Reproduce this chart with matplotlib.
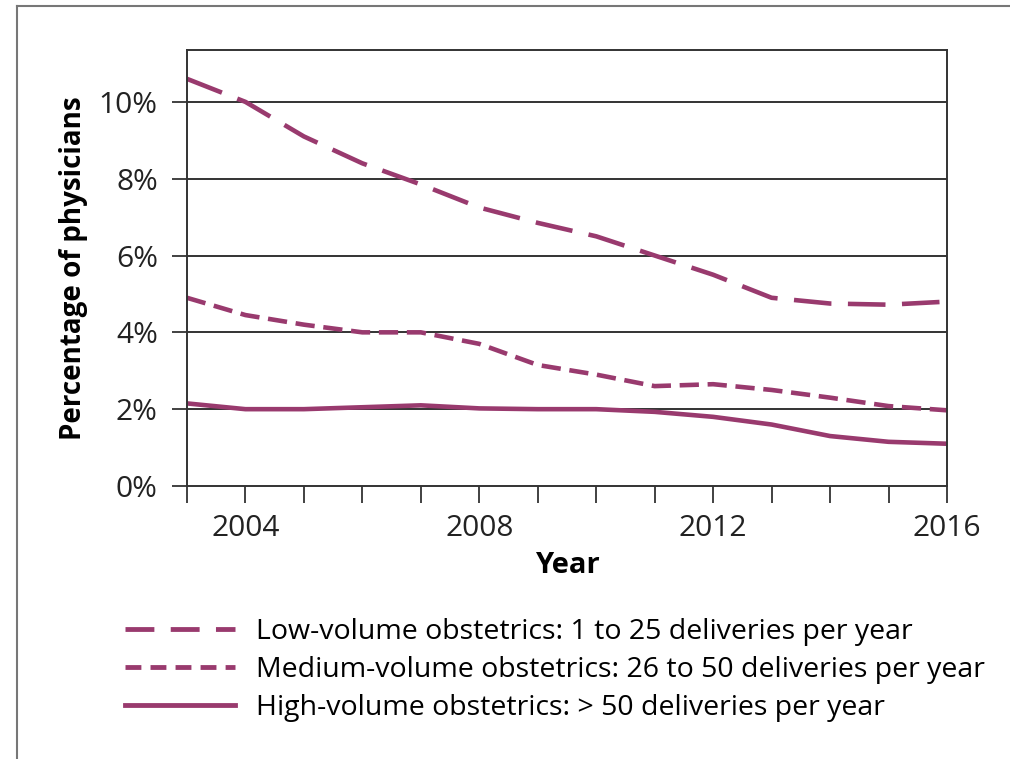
import matplotlib.pyplot as plt
from matplotlib.lines import Line2D

plt.rcParams['font.family'] = ['Open Sans', 'DejaVu Sans']

# Data
years = list(range(2003, 2017))
low_volume = [10.6, 10.0, 9.1, 8.4, 7.85, 7.25, 6.85, 6.5, 6.0, 5.5, 4.9, 4.75, 4.72, 4.8]
medium_volume = [4.9, 4.45, 4.2, 4.0, 4.0, 3.7, 3.15, 2.9, 2.6, 2.65, 2.5, 2.3, 2.08, 1.97]
high_volume = [2.15, 2.0, 2.0, 2.05, 2.1, 2.02, 2.0, 2.0, 1.93, 1.8, 1.6, 1.3, 1.15, 1.1]

y_ticks = [0, 2, 4, 6, 8, 10]
x_labels = {2004: "2004", 2008: "2008", 2012: "2012", 2016: "2016"}

labels = [
    "Low-volume obstetrics: 1 to 25 deliveries per year",
    "Medium-volume obstetrics: 26 to 50 deliveries per year",
    "High-volume obstetrics: > 50 deliveries per year",
]

color = "#993a6e"
dark = "#333333"
lw = 3.3

fig = plt.figure(figsize=(10.1, 7.59), dpi=100)
ax = fig.add_axes([0.1851, 0.3597, 0.7525, 0.5744])

ax.plot(years, low_volume, color=color, lw=lw, dashes=(8.2, 3.6),
        dash_capstyle="butt")
ax.plot(years, medium_volume, color=color, lw=lw, dashes=(4.2, 1.9),
        dash_capstyle="butt")
ax.plot(years, high_volume, color=color, lw=lw, solid_capstyle="butt")

ax.set_xlim(2003, 2016)
ax.set_ylim(0, 11.35)
ax.set_yticks(y_ticks)
ax.set_yticklabels([f"{v}%" for v in y_ticks])
ax.set_xticks(years)
ax.set_xticklabels([x_labels.get(y, "") for y in years])

for v in y_ticks[1:]:
    ax.axhline(v, color=dark, lw=1.4, zorder=0)

for s in ax.spines.values():
    s.set_color(dark)
    s.set_linewidth(1.4)

ax.tick_params(axis="x", direction="out", length=12, width=1.3, color=dark,
               labelsize=21.5, labelcolor="#222222", pad=8)
ax.tick_params(axis="y", direction="out", length=11, width=1.3, color=dark,
               labelsize=21.5, labelcolor="#222222", pad=10)

ax.set_xlabel("Year", fontsize=21, fontweight="bold", labelpad=6)
ax.set_ylabel("Percentage of physicians", fontsize=20, fontweight="bold", labelpad=8)

handles = [
    Line2D([], [], color=color, lw=lw * 1.05, dashes=(6.0, 3.4)),
    Line2D([], [], color=color, lw=lw * 1.05, dashes=(3.3, 1.9)),
    Line2D([], [], color=color, lw=lw * 1.05),
]
fig.legend(handles, labels, loc="upper left", bbox_to_anchor=(0.124, 0.186),
           frameon=False, fontsize=20.5, handlelength=3.85, handletextpad=0.75,
           labelspacing=0.36, borderaxespad=0, borderpad=0)

# outer frame
fig.add_artist(Line2D([17 / 1010, 17 / 1010], [0, 1 - 6 / 759],
                      transform=fig.transFigure, color="#777777", lw=1.5))
fig.add_artist(Line2D([17 / 1010, 1], [1 - 6 / 759, 1 - 6 / 759],
                      transform=fig.transFigure, color="#777777", lw=1.5))

fig.savefig("out.png", dpi=100)
